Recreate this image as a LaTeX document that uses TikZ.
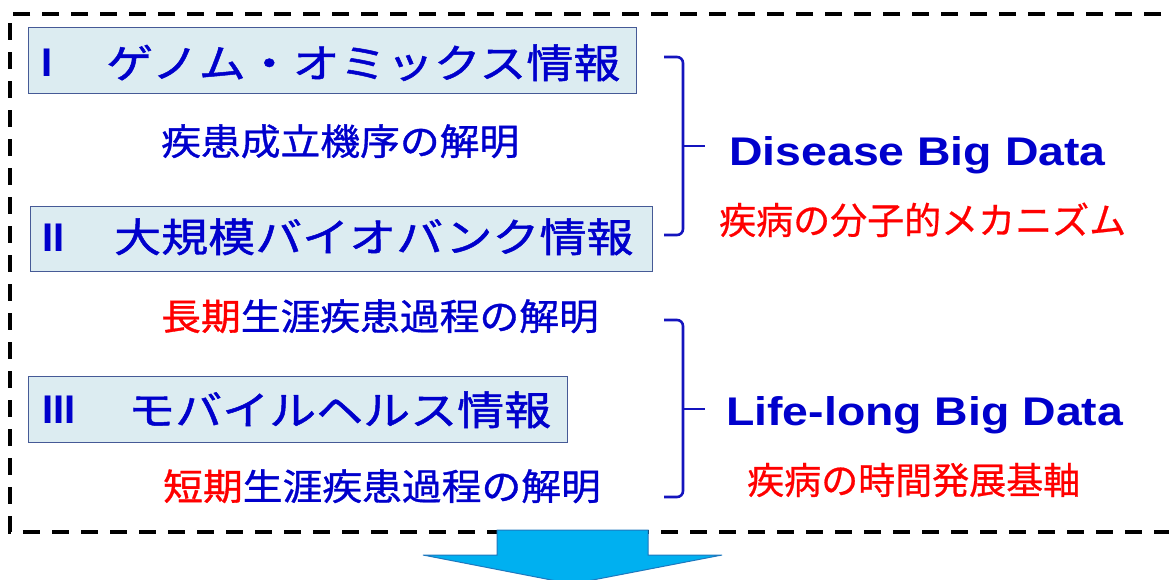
\documentclass[tikz,border=0pt]{standalone}
\usepackage{fontspec}
\newfontfamily\jpT{Noto Sans CJK JP}[FakeStretch=1.175, FakeBold=1.2]
\newfontfamily\jpB{Noto Sans CJK JP}[FakeStretch=1.09, FakeBold=1.0]
\newfontfamily\jpR{Noto Sans CJK JP}[FakeBold=0.6]
\newfontfamily\latB{Liberation Sans}[FakeStretch=1.16]
\newfontfamily\latN{Liberation Sans}
\definecolor{txtblue}{RGB}{0,0,204}
\definecolor{txtred}{RGB}{255,0,0}
\definecolor{boxfill}{RGB}{220,236,241}
\definecolor{boxline}{RGB}{70,90,150}
\definecolor{brblue}{RGB}{20,20,190}
\definecolor{arrfill}{RGB}{0,176,240}
\definecolor{arrline}{RGB}{30,120,190}
\tikzset{
  infobox/.style={draw=boxline, fill=boxfill, line width=1.2pt, inner sep=0pt, anchor=north west},
  numeral/.style={anchor=base west, inner sep=0pt, text=txtblue, font=\latN\bfseries\fontsize{40}{44}\selectfont},
  title/.style={anchor=base west, inner sep=0pt, text=txtblue, font=\jpT\fontsize{40}{44}\selectfont},
  subline/.style={anchor=base west, inner sep=0pt, text=txtblue, font=\jpB\fontsize{36.5}{40}\selectfont},
  redline/.style={anchor=base west, inner sep=0pt, text=txtred, font=\jpR\fontsize{37}{40}\selectfont},
  bigdata/.style={anchor=base west, inner sep=0pt, text=txtblue, font=\latB\bfseries\fontsize{40}{44}\selectfont},
  brace/.style={draw=brblue, line width=2.6pt, rounded corners=6pt},
  frame/.style={draw=black, line width=3.5pt, dash pattern=on 17pt off 12pt},
}
\begin{document}
\begin{tikzpicture}[x=1pt, y=-1pt]
\useasboundingbox (0,0) rectangle (1169,579);
\begin{scope}
\clip (0,0) rectangle (1169,579);
% dashed frame
\draw[frame] (1190,14) -- (10,14) -- (10,532) -- (1190,532);

% boxes
\node[infobox, minimum width=608pt, minimum height=66pt] (b1) at (28,27) {};
\node[infobox, minimum width=622pt, minimum height=65pt] (b2) at (30,206) {};
\node[infobox, minimum width=539pt, minimum height=66pt] (b3) at (28,376) {};

% box texts
\node[numeral] (n1) at (41,76) {I};
\node[title] (t1) at (106,78) {ゲノム・オミックス情報};
\node[numeral] (n2) at (42,251) {II};
\node[title] (t2) at (114,252) {大規模バイオバンク情報};
\node[numeral] (n3) at (42,423) {III};
\node[title] (t3) at (128,425) {モバイルヘルス情報};

% sub lines
\node[subline] (s1) at (161,155) {疾患成立機序の解明};
\node[subline] (s2) at (161,330) {\textcolor{txtred}{長期}生涯疾患過程の解明};
\node[subline] (s3) at (163,500) {\textcolor{txtred}{短期}生涯疾患過程の解明};

% braces
\coordinate (br1t) at (664,57);
\coordinate (br1b) at (664,235);
\coordinate (br1m) at (683,146);
\coordinate (br1e) at (705,146);
\draw[brace] (br1t) -- (683,57) -- (683,235) -- (br1b);
\draw[brace] (br1m) -- (br1e);
\coordinate (br2t) at (664,320);
\coordinate (br2b) at (664,497);
\coordinate (br2m) at (683,409);
\coordinate (br2e) at (705,409);
\draw[brace] (br2t) -- (683,320) -- (683,497) -- (br2b);
\draw[brace] (br2m) -- (br2e);

% right texts
\node[bigdata] (d1) at (729,165) {Disease Big Data};
\node[redline] (r1) at (719,234) {疾病の分子的メカニズム};
\node[bigdata] (d2) at (726,425) {Life-long Big Data};
\node[redline] (r2) at (747,494) {疾病の時間発展基軸};

% arrow
\draw[fill=arrfill, draw=arrline, line width=1pt]
  (497,530) -- (648,530) -- (648,555) -- (722,555) -- (572,584)
  -- (423,555) -- (497,555) -- cycle;
\end{scope}
\end{tikzpicture}
\end{document}
